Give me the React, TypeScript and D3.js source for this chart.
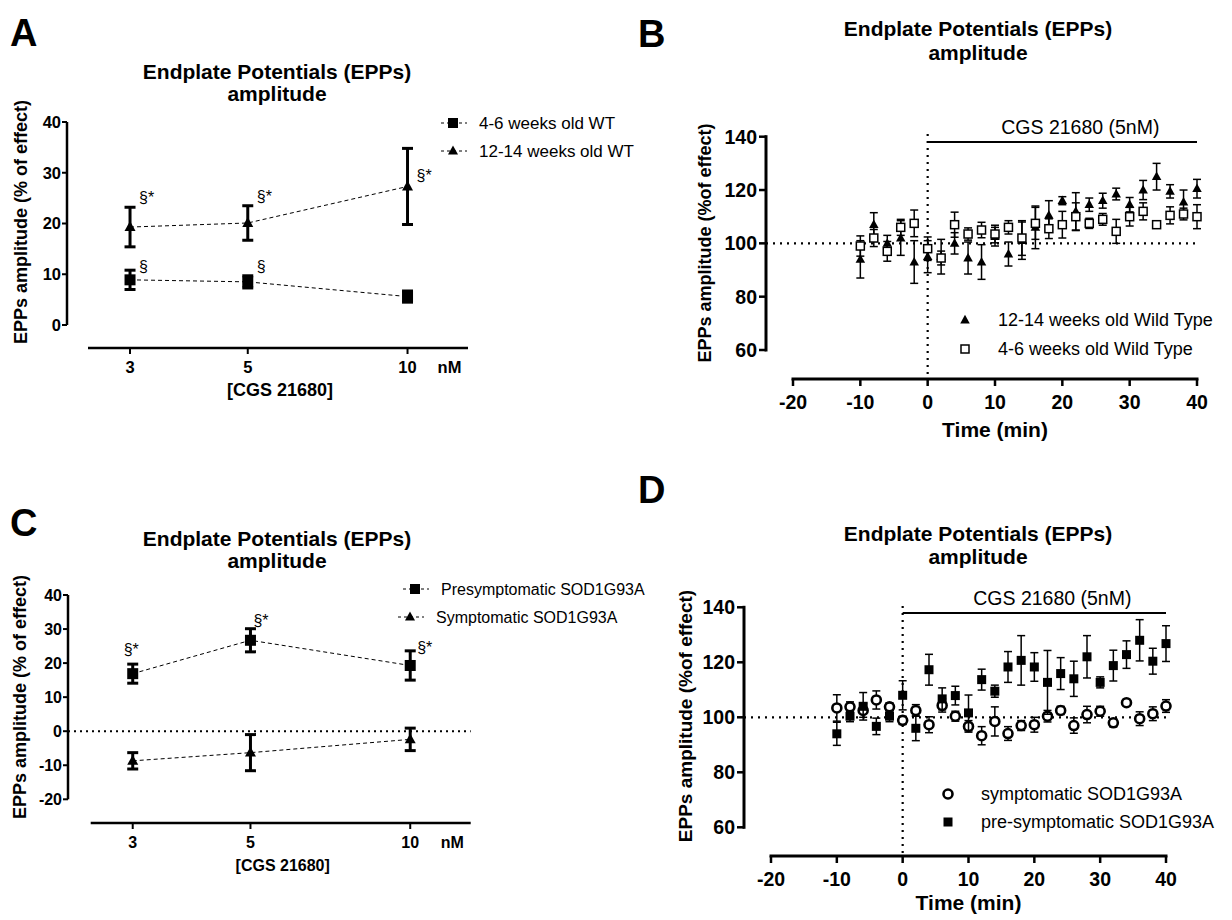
import React from 'react';
import * as d3 from 'd3';

// ---------- DATA ----------
const doses = [3, 5, 10];
const doseTickLabels = ['3', '5', '10'];

// Panel A
const aYoungMean = [8.9, 8.5, 5.6];
const aYoungSem = [1.9, 1.2, 1.1];
const aOldMean = [19.3, 20.1, 27.3];
const aOldSem = [3.9, 3.4, 7.5];
const aYTicks = [0, 10, 20, 30, 40];
const aAnnotDose = [3, 5, 10, 3, 5];
const aAnnotValue = [24.1, 24.3, 28.4, 10.5, 10.5];
const aAnnotText = ['§*', '§*', '§*', '§', '§'];

// Panel C
const cPreMean = [16.9, 26.7, 19.3];
const cPreSem = [2.8, 3.4, 4.3];
const cSymMean = [-8.7, -6.3, -2.4];
const cSymSem = [2.4, 5.3, 3.3];
const cYTicks = [-20, -10, 0, 10, 20, 30, 40];
const cAnnotDose = [3, 5, 10];
const cAnnotValue = [22.5, 31, 23.1];
const cAnnotText = ['§*', '§*', '§*'];

// Time course panels
const timePoints = [-10, -8, -6, -4, -2, 0, 2, 4, 6, 8, 10, 12, 14, 16, 18, 20, 22, 24, 26, 28, 30, 32, 34, 36, 38, 40];
const timeTicks = [-20, -10, 0, 10, 20, 30, 40];
const ampTicks = [60, 80, 100, 120, 140];

// Panel B
const bOldMean = [94, 107, 100, 102, 93, 95, 95, 100, 94.5, 93, 102.5, 96, 101, 106, 110.5, 116, 112, 114.5, 116, 118.5, 114.5, 120, 125, 119.5, 115.5, 120.5];
const bOldSem = [7, 4.5, 3, 6.5, 8, 6, 6.5, 4, 6, 6.5, 3.5, 4.5, 7, 8, 5.5, 1.5, 7, 2.5, 2.8, 2.2, 2.7, 3.6, 5, 2.5, 4.5, 3.5];
const bYoungMean = [99, 102, 97, 106, 107.5, 98, 94.5, 107, 103.5, 105, 103.5, 106, 102, 107.5, 105.5, 107, 110, 107.5, 109, 104.5, 110, 112, 107, 110.5, 111, 110];
const bYoungSem = [3.8, 3.2, 3.7, 3, 5, 4.4, 2.6, 4.7, 2.3, 2.9, 3.3, 2.5, 6.5, 6, 3.7, 5, 5.2, 1.9, 2.2, 4.5, 3.5, 3.2, 1.3, 3.2, 2.2, 4.5];

// Panel D
const dPreMean = [94, 100.4, 104, 96.7, 100.4, 108, 96, 117.3, 106.7, 107.9, 101.6, 113.7, 109.5, 118.3, 120.7, 118.3, 112.7, 115.9, 114, 122, 112.7, 118.8, 122.8, 128, 120.4, 126.8];
const dPreSem = [4.2, 2, 5, 3, 2, 5.3, 4.5, 5.6, 4, 3.4, 6.5, 3.8, 2.2, 5.6, 9, 5.2, 11.6, 5.8, 6.4, 7.7, 2, 5.6, 5, 7.5, 4.7, 6.5];
const dSymMean = [103.4, 103.8, 102.5, 106.3, 103.8, 98.9, 102.5, 97.3, 104.3, 100.4, 96.7, 93.3, 98.5, 94.1, 97, 97.3, 100.4, 102.5, 97, 101, 102.2, 98, 105.3, 99.5, 101.3, 104.1];
const dSymSem = [4.8, 1.8, 2.5, 3.3, 1.5, 1.5, 2.1, 2.9, 2.4, 1.8, 2.1, 3.3, 5.3, 2.5, 1.8, 2.7, 2.1, 1.5, 2.8, 3, 1.8, 1.5, 1, 2.5, 2.5, 2.3];

const titleLine1 = 'Endplate  Potentials (EPPs)';
const titleLine2 = 'amplitude';
const yLabelDose = 'EPPs amplitude (% of effect)';
const yLabelTime = 'EPPs amplitude  (%of effect)';
const xLabelDose = '[CGS 21680]';
const xLabelTime = 'Time (min)';
const drugLabel = 'CGS 21680 (5nM)';

// ---------- STYLE ----------
const FONT = "Arial, 'Liberation Sans', Helvetica, sans-serif";

type Shape = 'sq' | 'tri' | 'osq' | 'ocirc';

function Marker({ shape, x, y, s }: { shape: Shape; x: number; y: number; s: number }) {
  if (shape === 'sq') return <rect x={x - s / 2} y={y - s / 2} width={s} height={s} fill="#000" />;
  if (shape === 'osq')
    return <rect x={x - s / 2} y={y - s / 2} width={s} height={s} fill="#fff" stroke="#000" strokeWidth={1.5} />;
  if (shape === 'ocirc') return <circle cx={x} cy={y} r={s / 2} fill="#fff" stroke="#000" strokeWidth={2.6} />;
  const h = s * 0.9;
  return <path d={`M${x},${y - h * 0.6}L${x + s / 2},${y + h * 0.4}L${x - s / 2},${y + h * 0.4}Z`} fill="#000" />;
}

function ErrBar({ x, y1, y2, cap, sw }: { x: number; y1: number; y2: number; cap: number; sw: number }) {
  return (
    <g stroke="#000" strokeWidth={sw}>
      <line x1={x} x2={x} y1={y1} y2={y2} />
      <line x1={x - cap / 2} x2={x + cap / 2} y1={y1} y2={y1} />
      <line x1={x - cap / 2} x2={x + cap / 2} y1={y2} y2={y2} />
    </g>
  );
}

function Title({ cx, y1, y2 }: { cx: number; y1: number; y2: number }) {
  return (
    <g fontFamily={FONT} fontWeight="bold" fontSize={21} textAnchor="middle">
      <text x={cx} y={y1}>{titleLine1}</text>
      <text x={cx} y={y2}>{titleLine2}</text>
    </g>
  );
}

type DoseSeries = { mean: number[]; sem: number[]; shape: Shape; label: string };

function DosePanel(props: {
  letter: string; letterPos: [number, number];
  titlePos: [number, number, number];
  xRange: [number, number]; yDomain: [number, number]; yRange: [number, number];
  yTicks: number[]; axisX: number; axisY: number; tickFont: number; xLabelFont: number;
  series: DoseSeries[];
  legendX: number[]; legendY: number[]; legendFont: number;
  annDose: number[]; annVal: number[]; annText: string[]; annDx: number[];
  zeroLine?: boolean; yLabelPos: [number, number];
}) {
  const x = d3.scaleLog().domain([2.5, 13]).range(props.xRange);
  const y = d3.scaleLinear().domain(props.yDomain).range(props.yRange);
  const line = d3.line<[number, number]>().x(d => x(d[0])).y(d => y(d[1]));
  const tf = props.tickFont;
  return (
    <g fontFamily={FONT}>
      <text x={props.letterPos[0]} y={props.letterPos[1]} fontSize={38} fontWeight="bold">{props.letter}</text>
      <Title cx={props.titlePos[0]} y1={props.titlePos[1]} y2={props.titlePos[2]} />
      <line x1={props.axisX} x2={props.axisX} y1={y(props.yDomain[1])} y2={y(props.yDomain[0])} stroke="#000" strokeWidth={2.5} />
      {props.yTicks.map(t => (
        <g key={t}>
          <line x1={props.axisX - 5} x2={props.axisX} y1={y(t)} y2={y(t)} stroke="#000" strokeWidth={2} />
          <text x={props.axisX - 6} y={y(t) + tf * 0.36} textAnchor="end" fontSize={tf} fontWeight="bold">{t}</text>
        </g>
      ))}
      <text transform={`translate(${props.yLabelPos[0]},${props.yLabelPos[1]}) rotate(-90)`} textAnchor="middle" fontSize={18} fontWeight="bold">{yLabelDose}</text>
      <line x1={props.xRange[0]} x2={props.xRange[1]} y1={props.axisY} y2={props.axisY} stroke="#000" strokeWidth={2.5} />
      {doses.map((d, i) => (
        <g key={d}>
          <line x1={x(d)} x2={x(d)} y1={props.axisY} y2={props.axisY + 6} stroke="#000" strokeWidth={2} />
          <text x={x(d)} y={props.axisY + 25} textAnchor="middle" fontSize={tf} fontWeight="bold">{doseTickLabels[i]}</text>
        </g>
      ))}
      <text x={x(10) + 42} y={props.axisY + 25} textAnchor="middle" fontSize={tf} fontWeight="bold">nM</text>
      <text x={(props.xRange[0] + props.xRange[1]) / 2 + 2} y={props.axisY + 48} textAnchor="middle" fontSize={props.xLabelFont} fontWeight="bold">{xLabelDose}</text>
      {props.zeroLine && (
        <line x1={props.axisX} x2={props.xRange[1]} y1={y(0)} y2={y(0)} stroke="#000" strokeWidth={2} strokeDasharray="2,4" />
      )}
      {props.series.map((s, si) => (
        <g key={si}>
          <path d={line(doses.map((d, i) => [d, s.mean[i]]) as [number, number][]) || ''} fill="none" stroke="#000" strokeWidth={1} strokeDasharray="4,3" />
          {doses.map((d, i) => (
            <ErrBar key={i} x={x(d)} y1={y(s.mean[i] + s.sem[i])} y2={y(s.mean[i] - s.sem[i])} cap={11} sw={3} />
          ))}
          {doses.map((d, i) => (
            <Marker key={'m' + i} shape={s.shape} x={x(d)} y={y(s.mean[i])} s={11} />
          ))}
        </g>
      ))}
      {props.annText.map((t, i) => (
        <text key={i} x={x(props.annDose[i]) + props.annDx[i]} y={y(props.annVal[i])} fontSize={16}>{t}</text>
      ))}
      {props.series.map((s, si) => (
        <g key={'lg' + si}>
          <line x1={props.legendX[si] - 12} x2={props.legendX[si] + 14} y1={props.legendY[si]} y2={props.legendY[si]} stroke="#000" strokeWidth={1} strokeDasharray="3,3" />
          <Marker shape={s.shape} x={props.legendX[si]} y={props.legendY[si]} s={10} />
          <text x={props.legendX[si] + 26} y={props.legendY[si] + 6} fontSize={props.legendFont}>{s.label}</text>
        </g>
      ))}
    </g>
  );
}

type TimeSeries = { mean: number[]; sem: number[]; shape: Shape; size: number; label: string };

function TimePanel(props: {
  letter: string; letterPos: [number, number];
  titlePos: [number, number, number];
  xRange: [number, number]; yRange: [number, number];
  axisX: number; axisY: number; vTop: number;
  drugY: number; drugTextY: number;
  series: TimeSeries[]; legendX: number; legendY: number[];
  yLabelPos: [number, number]; yLabelFont: number; xLabelY: number;
}) {
  const x = d3.scaleLinear().domain([-20, 40]).range(props.xRange);
  const y = d3.scaleLinear().domain([60, 140]).range(props.yRange);
  return (
    <g fontFamily={FONT}>
      <text x={props.letterPos[0]} y={props.letterPos[1]} fontSize={38} fontWeight="bold">{props.letter}</text>
      <Title cx={props.titlePos[0]} y1={props.titlePos[1]} y2={props.titlePos[2]} />
      <line x1={props.axisX} x2={x(40)} y1={y(100)} y2={y(100)} stroke="#000" strokeWidth={2.2} strokeDasharray="2,5" />
      <line x1={x(0)} x2={x(0)} y1={props.vTop} y2={props.axisY} stroke="#000" strokeWidth={2.2} strokeDasharray="2,5" />
      <line x1={x(0)} x2={x(40)} y1={props.drugY} y2={props.drugY} stroke="#000" strokeWidth={2} />
      <text x={(x(0) + x(40)) / 2 + 18} y={props.drugTextY} textAnchor="middle" fontSize={19.5}>{drugLabel}</text>
      <line x1={props.axisX} x2={props.axisX} y1={y(140) - 1.5} y2={y(60) + 1.5} stroke="#000" strokeWidth={3} />
      {ampTicks.map(t => (
        <g key={t}>
          <line x1={props.axisX - 7} x2={props.axisX} y1={y(t)} y2={y(t)} stroke="#000" strokeWidth={2.5} />
          <text x={props.axisX - 9} y={y(t) + 7} textAnchor="end" fontSize={19.5} fontWeight="bold">{t}</text>
        </g>
      ))}
      <text transform={`translate(${props.yLabelPos[0]},${props.yLabelPos[1]}) rotate(-90)`} textAnchor="middle" fontSize={props.yLabelFont} fontWeight="bold">{yLabelTime}</text>
      <line x1={x(-20) - 1.5} x2={x(40) + 1.5} y1={props.axisY} y2={props.axisY} stroke="#000" strokeWidth={3} />
      {timeTicks.map(t => (
        <g key={t}>
          <line x1={x(t)} x2={x(t)} y1={props.axisY} y2={props.axisY + 7} stroke="#000" strokeWidth={2.5} />
          <text x={x(t)} y={props.axisY + 30} textAnchor="middle" fontSize={19.5} fontWeight="bold">{t}</text>
        </g>
      ))}
      <text x={x(10)} y={props.xLabelY} textAnchor="middle" fontSize={21} fontWeight="bold">{xLabelTime}</text>
      {props.series.map((s, si) => (
        <g key={si}>
          {timePoints.map((t, i) => (
            <ErrBar key={i} x={x(t)} y1={y(s.mean[i] + s.sem[i])} y2={y(s.mean[i] - s.sem[i])} cap={8} sw={1.5} />
          ))}
          {timePoints.map((t, i) => (
            <Marker key={'m' + i} shape={s.shape} x={x(t)} y={y(s.mean[i])} s={s.size} />
          ))}
        </g>
      ))}
      {props.series.map((s, si) => (
        <g key={'lg' + si}>
          <Marker shape={s.shape} x={props.legendX} y={props.legendY[si]} s={s.size} />
          <text x={props.legendX + 33} y={props.legendY[si] + 6} fontSize={18}>{s.label}</text>
        </g>
      ))}
    </g>
  );
}

export default function App() {
  return (
    <svg width={1232} height={920} style={{ position: 'absolute', left: 0, top: 0, background: '#fff' }}>
      <rect width={1232} height={920} fill="#fff" />
      <DosePanel
        letter="A" letterPos={[10, 46]} titlePos={[277, 79, 101]}
        xRange={[88, 468]} yDomain={[0, 40]} yRange={[325, 122]} yTicks={aYTicks}
        axisX={67} axisY={348} tickFont={16.5} xLabelFont={18}
        series={[
          { mean: aYoungMean, sem: aYoungSem, shape: 'sq', label: '4-6 weeks old WT' },
          { mean: aOldMean, sem: aOldSem, shape: 'tri', label: '12-14 weeks old WT' },
        ]}
        legendX={[453, 453]} legendY={[123, 151]} legendFont={17}
        annDose={aAnnotDose} annVal={aAnnotValue} annText={aAnnotText} annDx={[9, 9, 9, 9, 9]}
        yLabelPos={[27, 222]}
      />
      <DosePanel
        letter="C" letterPos={[10, 536]} titlePos={[277, 546, 568]}
        xRange={[90.7, 470.7]} yDomain={[-20, 40]} yRange={[799.3, 595]} yTicks={cYTicks}
        axisX={68} axisY={823} tickFont={16} xLabelFont={16}
        series={[
          { mean: cPreMean, sem: cPreSem, shape: 'sq', label: 'Presymptomatic SOD1G93A' },
          { mean: cSymMean, sem: cSymSem, shape: 'tri', label: 'Symptomatic SOD1G93A' },
        ]}
        legendX={[415, 410]} legendY={[589, 617]} legendFont={16}
        annDose={cAnnotDose} annVal={cAnnotValue} annText={cAnnotText} annDx={[-9, 3, 7]}
        zeroLine yLabelPos={[26, 697]}
      />
      <TimePanel
        letter="B" letterPos={[638, 47]} titlePos={[978, 36, 60]}
        xRange={[793, 1197]} yRange={[350, 136.7]} axisX={766} axisY={379} vTop={134}
        drugY={142} drugTextY={134}
        series={[
          { mean: bOldMean, sem: bOldSem, shape: 'tri', size: 9.5, label: '12-14 weeks old Wild Type' },
          { mean: bYoungMean, sem: bYoungSem, shape: 'osq', size: 8, label: '4-6 weeks old Wild Type' },
        ]}
        legendX={965} legendY={[320, 349]}
        yLabelPos={[711, 243]} yLabelFont={18} xLabelY={437}
      />
      <TimePanel
        letter="D" letterPos={[638, 503]} titlePos={[978, 541, 564]}
        xRange={[771, 1166]} yRange={[827.3, 607.3]} axisX={744} axisY={856} vTop={606}
        drugY={613} drugTextY={605}
        series={[
          { mean: dSymMean, sem: dSymSem, shape: 'ocirc', size: 9, label: 'symptomatic SOD1G93A' },
          { mean: dPreMean, sem: dPreSem, shape: 'sq', size: 9, label: 'pre-symptomatic SOD1G93A' },
        ]}
        legendX={948} legendY={[794, 822]}
        yLabelPos={[692, 716]} yLabelFont={19} xLabelY={910}
      />
    </svg>
  );
}
